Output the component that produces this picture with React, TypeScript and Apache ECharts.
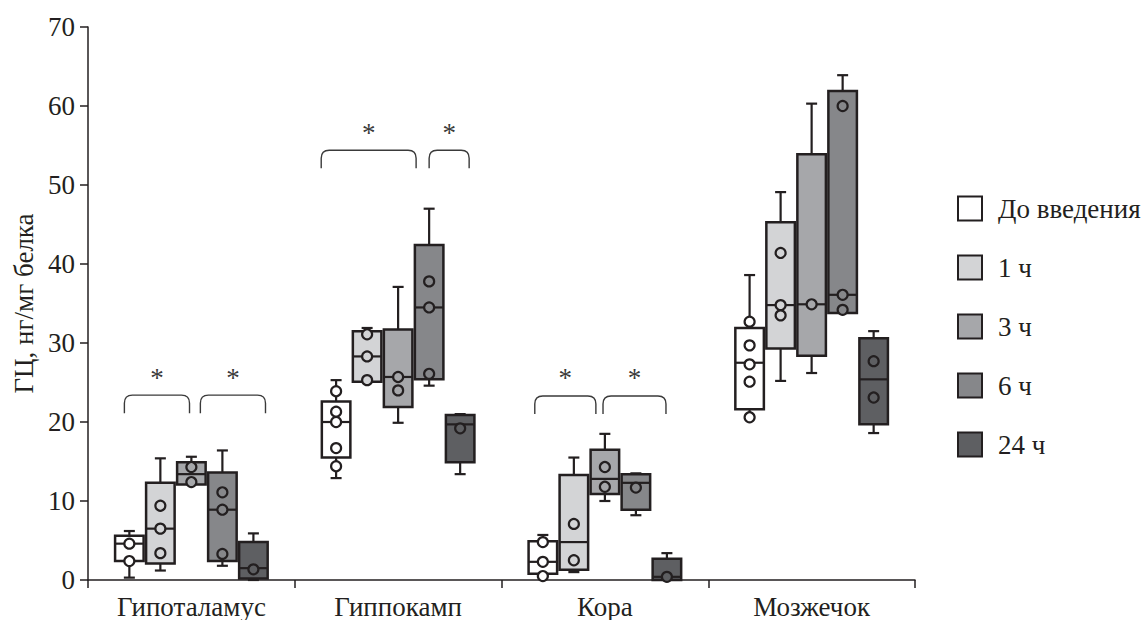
import React, { useEffect, useRef } from "react";
import * as echarts from "echarts";

const categories = ["Гипоталамус", "Гиппокамп", "Кора", "Мозжечок"];
const seriesNames = ["До введения", "1 ч", "3 ч", "6 ч", "24 ч"];
const seriesColors = ["#ffffff", "#d3d4d6", "#a6a7aa", "#86878a", "#5e5f62"];

// [whisker low, Q1, median, Q3, whisker high] per category
const boxBaseline = [
  [0.3, 2.4, 4.6, 5.6, 6.2],
  [12.9, 15.5, 20.0, 22.6, 25.3],
  [0.5, 0.8, 2.3, 4.9, 5.7],
  [20.6, 21.6, 27.5, 31.9, 38.6],
];
const box1h = [
  [1.2, 2.1, 6.5, 12.3, 15.4],
  [25.1, 25.1, 28.3, 31.5, 31.9],
  [1.0, 1.3, 4.8, 13.3, 15.5],
  [25.2, 29.3, 34.8, 45.3, 49.1],
];
const box3h = [
  [12.1, 12.1, 13.4, 14.9, 15.6],
  [19.9, 21.9, 25.7, 31.7, 37.1],
  [10.0, 10.9, 12.8, 16.5, 18.5],
  [26.2, 28.4, 34.9, 53.9, 60.3],
];
const box6h = [
  [1.8, 2.4, 8.9, 13.6, 16.4],
  [24.6, 25.4, 34.5, 42.4, 47.0],
  [8.2, 8.9, 12.3, 13.4, 13.5],
  [33.8, 33.8, 36.1, 61.9, 63.9],
];
const box24h = [
  [0.0, 0.2, 1.5, 4.8, 5.9],
  [13.4, 14.9, 19.7, 20.9, 21.0],
  [0.0, 0.0, 0.4, 2.7, 3.4],
  [18.6, 19.7, 25.4, 30.6, 31.5],
];

// individual observations per category
const ptsBaseline = [[4.6, 2.4], [23.9, 21.3, 20.0, 16.7, 14.4], [4.8, 2.3, 0.5], [32.7, 29.7, 27.3, 25.1, 20.6]];
const pts1h = [[9.4, 6.5, 3.4], [31.1, 28.3, 25.3], [7.1, 2.5], [41.4, 34.8, 33.5]];
const pts3h = [[14.3, 12.4], [25.7, 24.0], [14.3, 11.8], [34.9]];
const pts6h = [[11.1, 8.9, 3.3], [37.8, 34.5, 26.1], [11.7], [60.0, 36.1, 34.2]];
const pts24h = [[1.35], [19.2], [0.4], [27.7, 23.1]];

// significance brackets: [category, from slot, to slot, level]
const brackets = [
  [0, -2.16, -0.06, 23.4],
  [0, 0.29, 2.39, 23.4],
  [1, -2.48, 0.58, 54.4],
  [1, 1.0, 2.29, 54.4],
  [2, -2.26, -0.29, 23.3],
  [2, -0.06, 1.97, 23.3],
];
const bracketLabel = "*";

const boxes = [boxBaseline, box1h, box3h, box6h, box24h];
const points = [ptsBaseline, pts1h, pts3h, pts6h, pts24h];

const FONT = "'Liberation Serif', 'DejaVu Serif', serif";
const INK = "#231f20";
const SLOT = 0.15;
const BOX_W = 0.138;
const FS = 27;

function boxRenderer(si: number) {
  return (params: any, api: any) => {
    const cat = api.value(0);
    const low = api.value(1);
    const q1 = api.value(2);
    const med = api.value(3);
    const q3 = api.value(4);
    const high = api.value(5);
    const band = api.size([1, 0])[0];
    const cx = api.coord([cat, 0])[0] + (si - 2) * SLOT * band;
    const half = (BOX_W * band) / 2;
    const y = (v: number) => api.coord([cat, v])[1];
    const color = seriesColors[si];
    const lineStyle = { stroke: INK, lineWidth: 2.2 };
    const children: any[] = [];
    const cap = 5.5;
    if (high > q3) {
      children.push({ type: "line", shape: { x1: cx, y1: y(q3), x2: cx, y2: y(high) }, style: lineStyle });
      children.push({ type: "line", shape: { x1: cx - cap, y1: y(high), x2: cx + cap, y2: y(high) }, style: lineStyle });
    }
    if (low < q1) {
      children.push({ type: "line", shape: { x1: cx, y1: y(q1), x2: cx, y2: y(low) }, style: lineStyle });
      children.push({ type: "line", shape: { x1: cx - cap, y1: y(low), x2: cx + cap, y2: y(low) }, style: lineStyle });
    }
    children.push({
      type: "rect",
      shape: { x: cx - half, y: y(q3), width: half * 2, height: y(q1) - y(q3) },
      style: { fill: color, stroke: INK, lineWidth: 2.5 },
    });
    children.push({ type: "line", shape: { x1: cx - half, y1: y(med), x2: cx + half, y2: y(med) }, style: lineStyle });
    const pts = points[si][params.dataIndex] || [];
    pts.forEach((p: number) => {
      children.push({
        type: "circle",
        shape: { cx, cy: y(p), r: 5 },
        style: { fill: color, stroke: INK, lineWidth: 2.2 },
      });
    });
    return { type: "group", children };
  };
}

function bracketRenderer(params: any, api: any) {
  const cat = api.value(0);
  const from = api.value(1);
  const to = api.value(2);
  const level = api.value(3);
  const band = api.size([1, 0])[0];
  const c = api.coord([cat, level]);
  const x1 = c[0] + from * SLOT * band;
  const x2 = c[0] + to * SLOT * band;
  const yt = c[1];
  const yb = yt + 18;
  const r = 8;
  const d = `M${x1},${yb} L${x1},${yt + r} Q${x1},${yt} ${x1 + r},${yt} L${x2 - r},${yt} Q${x2},${yt} ${x2},${yt + r} L${x2},${yb}`;
  return {
    type: "group",
    children: [
      { type: "path", shape: { pathData: d }, style: { fill: "none", stroke: "#3a3a3a", lineWidth: 1.4 } },
      {
        type: "text",
        x: (x1 + x2) / 2,
        y: yt - 4,
        style: { text: bracketLabel, fill: "#3a3a3a", font: `27px ${FONT}`, align: "center", verticalAlign: "bottom" },
      },
    ],
  };
}

export default function App() {
  const ref = useRef<HTMLDivElement>(null);
  useEffect(() => {
    if (!ref.current) return;
    const chart = echarts.init(ref.current, undefined, { renderer: "svg" });
    const series: any[] = boxes.map((b, si) => ({
      name: seriesNames[si],
      type: "custom",
      renderItem: boxRenderer(si),
      itemStyle: { color: seriesColors[si], borderColor: INK, borderWidth: 2 },
      encode: { x: 0, y: [1, 2, 3, 4, 5] },
      data: b.map((row, ci) => [ci, ...row]),
      z: 3,
    }));
    series.push({
      name: "brackets",
      type: "custom",
      renderItem: bracketRenderer,
      encode: { x: 0, y: 3 },
      data: brackets,
      silent: true,
      z: 4,
    });
    chart.setOption({
      animation: false,
      backgroundColor: "#ffffff",
      grid: { left: 88, right: 230, top: 27, bottom: 40 },
      legend: {
        orient: "vertical",
        left: 952,
        top: 190,
        itemWidth: 24,
        itemHeight: 24,
        itemGap: 32,
        icon: "rect",
        data: seriesNames,
        itemStyle: { borderColor: INK, borderWidth: 2 },
        textStyle: { fontFamily: FONT, fontSize: FS, lineHeight: 24, color: INK, padding: [0, 0, 0, 11] },
        selectedMode: false,
      },
      xAxis: {
        type: "category",
        data: categories,
        axisLine: { lineStyle: { color: INK, width: 1.5 } },
        axisTick: { show: true, length: 8, alignWithLabel: false, lineStyle: { color: INK, width: 1.5 } },
        axisLabel: { fontFamily: FONT, fontSize: FS, color: INK, margin: 13 },
        splitLine: { show: false },
      },
      yAxis: {
        type: "value",
        min: 0,
        max: 70,
        interval: 10,
        name: "ГЦ, нг/мг белка",
        nameLocation: "middle",
        nameGap: 51,
        nameTextStyle: { fontFamily: FONT, fontSize: FS, color: INK },
        axisLine: { show: true, lineStyle: { color: INK, width: 1.5 } },
        axisTick: { show: true, length: 8, lineStyle: { color: INK, width: 1.5 } },
        axisLabel: { fontFamily: FONT, fontSize: FS, color: INK, margin: 13 },
        splitLine: { show: false },
      },
      series,
    });
    return () => chart.dispose();
  }, []);
  return (
    <div
      ref={ref}
      style={{ position: "fixed", left: 0, top: 0, width: 1145, height: 620, background: "#fff" }}
    />
  );
}
